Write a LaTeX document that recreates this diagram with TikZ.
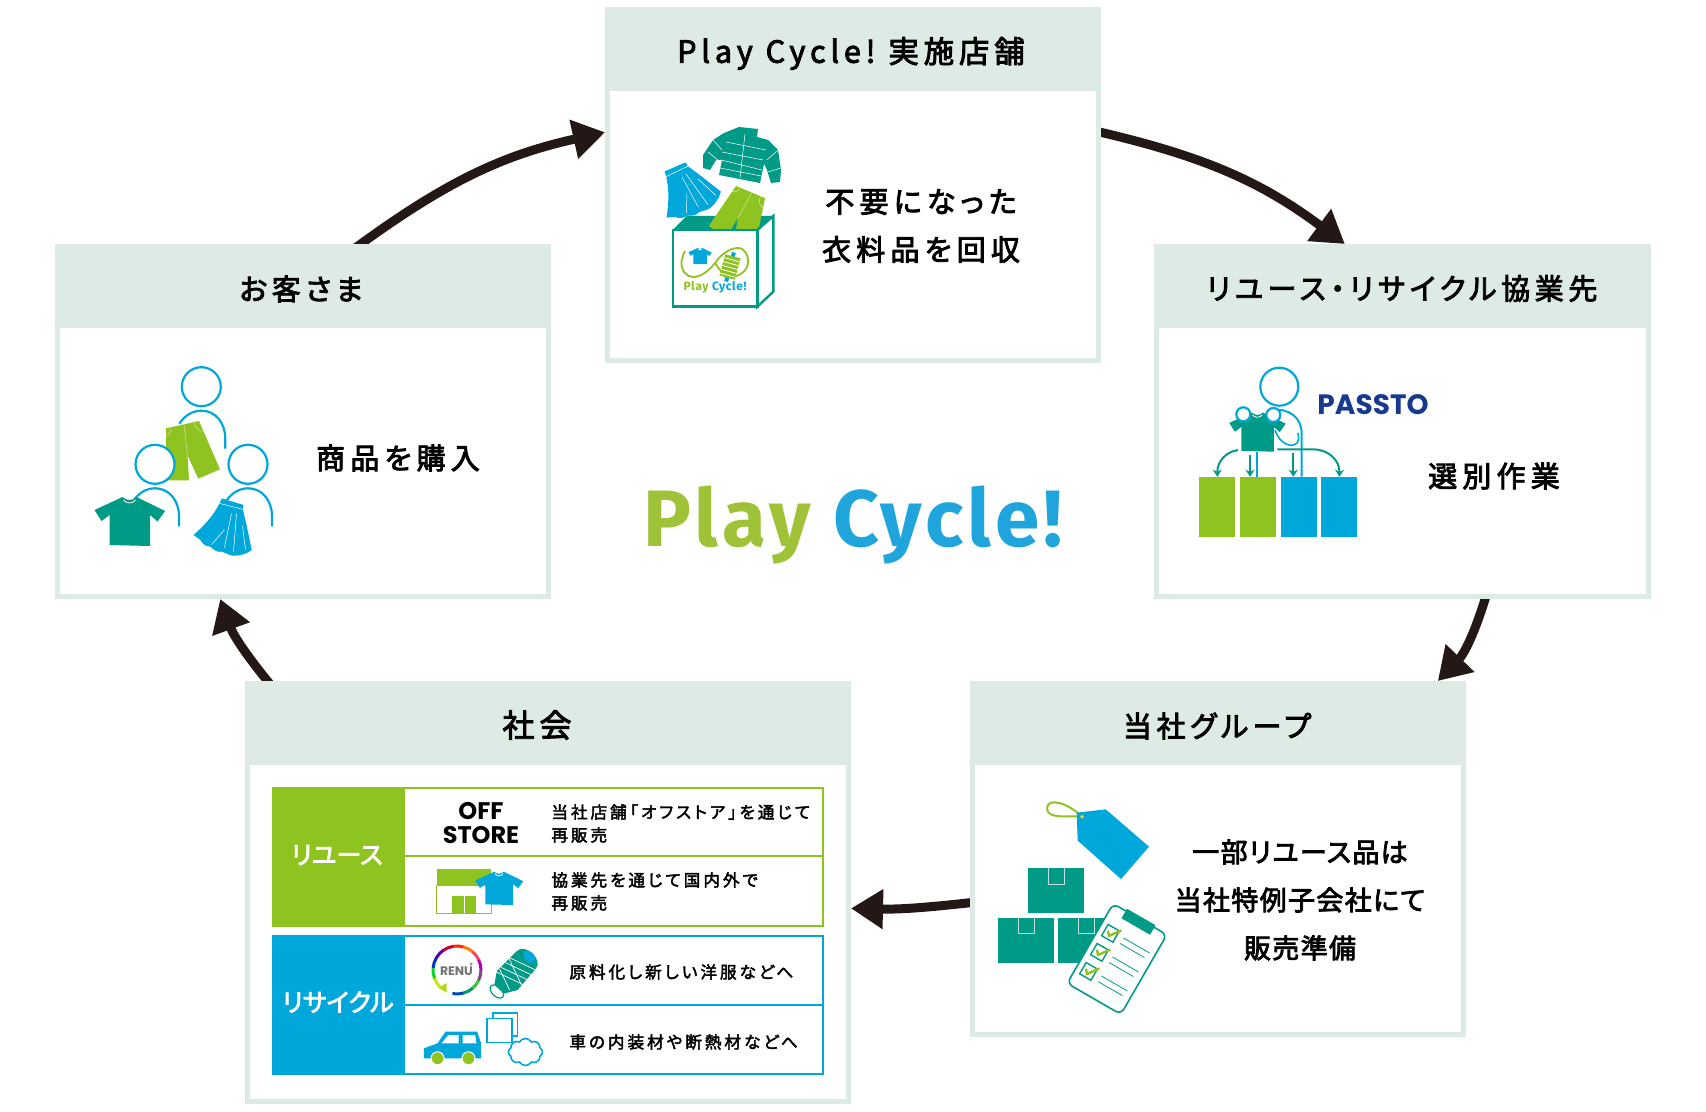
\documentclass[tikz,border=0pt]{standalone}
\usepackage{fontspec}
\usetikzlibrary{arrows.meta, positioning, shapes.symbols}
\newfontfamily\jpwide[RawFeature={+palt},FakeBold=3,LetterSpace=16]{Noto Sans CJK JP}
\newfontfamily\jpbody[RawFeature={+palt},FakeBold=3,LetterSpace=18]{Noto Sans CJK JP}
\newfontfamily\jptight[RawFeature={+palt},FakeBold=3,LetterSpace=5]{Noto Sans CJK JP}
\newfontfamily\jprow[RawFeature={+palt},FakeBold=2.5,LetterSpace=18]{Noto Sans CJK JP}
\newfontfamily\jplabel[RawFeature={+palt},FakeBold=3]{Noto Sans CJK JP}
\newfontfamily\titlefont[LetterSpace=5.3]{Fira Sans}
\newfontfamily\brandfont{Poppins}
\definecolor{headc}{HTML}{DEEBE4}
\definecolor{leafc}{HTML}{8FC31F}
\definecolor{skyc}{HTML}{00A7DB}
\definecolor{tealc}{HTML}{009B86}
\definecolor{navyc}{HTML}{173A8F}
\definecolor{inkc}{HTML}{231815}
\definecolor{tapec}{HTML}{BFE3DA}
\pgfdeclarelayer{behind}
\pgfsetlayers{behind,main}

\begin{document}
\begin{tikzpicture}[x=0.5pt, y=-0.5pt]
	\tikzset{
		stage/.style={draw=headc, fill=white, line width=2.5pt, inner sep=0pt},
		headbar/.style={fill=headc},
		headtext/.style={font=\jpwide\fontsize{14.5}{18}\selectfont, text=black, inner sep=0pt},
		bodytext/.style={font=\jpbody\fontsize{14.5}{24}\selectfont, text=black, align=center, inner sep=0pt},
		grouptext/.style={font=\jptight\fontsize{13.5}{24}\selectfont, text=black, align=center, inner sep=0pt},
		rowtext/.style={font=\jprow\fontsize{8.3}{11.5}\selectfont, text=black, align=left, inner sep=0pt, anchor=west},
		tagtext/.style={font=\jplabel\fontsize{12.6}{14}\selectfont, text=white, inner sep=0pt},
		flow/.style={-{Triangle[length=16pt, width=19pt]}, draw=inkc, line width=4.5pt, shorten <=-8pt},
		sortflow/.style={-{Stealth[length=3.5pt, width=4.5pt]}, draw=tealc, line width=1pt},
		bin/.style={minimum width=18pt, minimum height=30.3pt, inner sep=0pt, outer sep=0pt},
		person/.pic={
			\draw[skyc, line width=1.1pt, fill=white] (0,0) circle (19.5);
			\draw[skyc, line width=1.1pt] (-22,37) .. controls (-16,28) and (-8,24) .. (0,24) .. controls (14,24) and (24,36) .. (24,52) -- (24,62);
		},
		tee/.pic={
			\fill[pic actions] (-7,0) -- (-35,13) -- (-28,24) -- (-20,18) -- (-20,48) -- (20.6,49) -- (20.6,18) -- (28,24.5) -- (35.6,14) -- (7,0) .. controls (3,4) and (-3,4) .. cycle;
			\draw[white, line width=0.4pt] (-6,3) .. controls (-3,7) and (3,7) .. (6,3);
		},
		skirt/.pic={
			\fill[skyc] (-10.7,-3.3) -- (11,3.3) -- (10.3,7.7) .. controls (14,22) and (17,38) .. (19.3,48.3) .. controls (14,52) and (9,54) .. (1,54) .. controls (-3,54) and (-7,51) .. (-10.7,50) .. controls (-15,51) and (-19,48) .. (-22,45) .. controls (-27,45) and (-30,42) .. (-32.3,38) -- (-39,33.3) .. controls (-27,23) and (-18,12) .. (-13,1.7) -- cycle;
			\draw[white, line width=0.25pt] (-13,1.7) -- (10.5,7.7) (-1,12) -- (-8,46) (4,12) -- (1,50) (10,24) -- (13,48) (-8,28) -- (-21,43);
		},
		shorts/.pic={
			\fill[leafc] (0,0) -- (33,-7.3) -- (54,41) -- (32.3,50.3) -- (21.5,27) -- (23,52) -- (0.7,52) -- cycle;
			\draw[white!60!leafc, line width=0.25pt] (18,-4) -- (21.5,27) (5,0) .. controls (5,5) and (2,7) .. (0,7) (28,-6) .. controls (29,0) and (33,3) .. (38,3);
		},
		parcel/.pic={
			\fill[tealc] (0,0) rectangle (56.3,45);
			\draw[tapec, line width=0.5pt] (20.5,0) -- (20.5,15.7) -- (36.2,15.7) -- (36.2,0);
		},
	}

	\useasboundingbox (0,0) rectangle (1706,1112);

	\foreach \name/\cx/\cy/\bw/\bh in {store/853/185/491/351, customer/303/421.5/491/350, partner/1402.5/421.5/492/350, group/1218/859/491/351, society/548/892.5/601/418}
		\node[stage, minimum width=\bw*0.5pt, minimum height=\bh*0.5pt] (\name) at (\cx,\cy) {};

	\fill[headbar] (605,7) rectangle (1101,91);
	\fill[headbar] (55,244) rectangle (551,328);
	\fill[headbar] (1154,244) rectangle (1651,328);
	\fill[headbar] (970,681) rectangle (1466,765);
	\fill[headbar] (245,681) rectangle (851,765);

	\begin{pgfonlayer}{behind}
		\draw[flow] (customer.72.8) to[bend left=12] (store.168);
		\draw[flow] (store.12) to[bend left=12] (partner.108.5);
		\draw[flow] (partner.-65.6) to[bend left=14] (group.39);
		\draw[flow] (group.190.7) to[bend left=4] (society.-3.7);
		\draw[flow] (society.143) to[bend left=10] (customer.245.2);
	\end{pgfonlayer}

	\node[headtext, font=\jpwide\fontsize{15.2}{18}\selectfont] (storehead) at (851,53.5) {Play\hspace{6.5pt}Cycle!\hspace{6.5pt}実施店舗};
	\node[headtext] (customerhead) at (301,289) {お客さま};
	\node[headtext] (partnerhead) at (1402,288.5) {リユース・リサイクル協業先};
	\node[headtext] (grouphead) at (1217,726) {当社グループ};
	\node[headtext, font=\jpwide\fontsize{16}{18}\selectfont] (societyhead) at (537,725) {社会};

	\node[bodytext] (storetext) at (921,226) {不要になった\\衣料品を回収};
	\node[bodytext] (customertext) at (398,458) {商品を購入};
	\node[bodytext] (partnertext) at (1494,476) {選別作業};
	\node[grouptext] (grouptext) at (1300,900) {一部リユース品は\\当社特例子会社にて\\販売準備};

	\node[font=\titlefont\bfseries\fontsize{40}{48}\selectfont, inner sep=0pt, anchor=base west] (title) at (643,546) {\textcolor[HTML]{A0C238}{Play} \textcolor[HTML]{1FA5DC}{Cycle!}};

	% store icon
	\fill[tealc] (739,127) -- (758,129) -- (757,137) -- (768,140) -- (778,150) -- (781,170) -- (780,182) -- (771,183) -- (767,170) -- (764,164) -- (760,183) -- (719,175) -- (722,160) -- (716,160) -- (710,170) -- (703,168) -- (703,155) -- (713,140) -- (724,133) -- cycle;
	\draw[white, line width=0.25pt] (745,134) -- (740,178) (726,142) -- (766,150) (722,152) -- (763,160) (721,160) -- (762,170) (720,168) -- (761,176) (713,140) -- (722,150) (708,152) -- (718,160) (778,150) -- (767,160) (781,168) -- (768,172);
	\pic at (675,167) [rotate=40] {skirt};
	\fill[tealc] (672.7,230) -- (686.7,216) -- (773.3,216) -- (757.3,230) -- cycle;
	\pic at (736,186) [rotate=-35, scale=0.93] {shorts};
	\draw[tealc, line width=1.2pt, fill=white] (757.3,230) -- (773.3,216) -- (773.3,291.7) -- (757.3,306.7) -- cycle;
	\draw[tealc, line width=1.2pt, fill=white] (672.7,230) rectangle (757.3,306.7);
	\draw[leafc, line width=0.9pt] (715,263) .. controls (724,250) and (734,248) .. (738,248) .. controls (745,248) and (749,256) .. (748,263) .. controls (747,272) and (738,277) .. (730,277) .. controls (724,277) and (720,270) .. (715,263) .. controls (708,272) and (700,277) .. (693,277) .. controls (686,277) and (681,270) .. (681.5,262) .. controls (682,258) and (683,255) .. (685,251);
	\pic[fill=skyc] at (700,248) [scale=0.33] {tee};
	\begin{scope}[shift={(730,267)}, rotate=-15]
		\fill[skyc] (-2,-15) rectangle (2,15);
		\fill[leafc] (-8,-11) rectangle (8,11);
		\foreach \yy in {-7.5,-3.5,0.5,4.5,8.5}
			\draw[white, line width=0.4pt] (-8,\yy) -- (8,\yy);
	\end{scope}
	\node[font=\titlefont\bfseries\fontsize{6}{7}\selectfont, inner sep=0pt] (boxlogo) at (715,287) {\textcolor{leafc}{Play} \textcolor{skyc}{Cycle!}};

	% customer icon
	\pic at (201.3,386.7) {person};
	\pic at (166,428.3) {shorts};
	\pic at (155,464.3) {person};
	\pic at (248,464.3) {person};
	\pic[fill=tealc] at (129.5,497) {tee};
	\pic at (232.5,501.7) {skirt};

	% partner icon
	\node[fill=leafc, bin] (bin1) at (1217.3,507) {};
	\node[fill=leafc, bin, right=2.35pt of bin1] (bin2) {};
	\node[fill=skyc, bin, right=2.35pt of bin2] (bin3) {};
	\node[fill=skyc, bin, right=2.35pt of bin3] (bin4) {};
	\coordinate (stem1) at (1256.7,451.7);
	\coordinate (stem2) at (1301.7,434);
	\draw[skyc, line width=1pt] (stem1) -- (stem1 |- bin2.north);
	\draw[skyc, line width=1pt] (1272,410) .. controls (1290,408) and (1301.7,418) .. (stem2) -- (stem2 |- bin3.north);
	\draw[skyc, line width=0.8pt] (1275,430) .. controls (1280,445) and (1292,448) .. (1297,443) .. controls (1300,438) and (1298,436) .. (1298,433);
	\draw[skyc, line width=1.1pt, fill=white] (1279.3,386.7) circle (19);
	\pic[fill=tealc] at (1257.3,412.5) [scale=0.8] {tee};
	\draw[skyc, line width=1.1pt, fill=white] (1243.3,414.3) circle (7);
	\draw[skyc, line width=1.1pt, fill=white] (1273.3,415) circle (7);
	\coordinate (out1) at (1238,450);
	\coordinate (out2) at (1250,455);
	\coordinate (out3) at (1293.3,453);
	\coordinate (out4) at (1277.3,449.3);
	\draw[sortflow] (out1) .. controls (1225,452) and (1217.3,462) .. (bin1.north);
	\draw[sortflow] (out2) -- (out2 |- bin2.north);
	\draw[sortflow] (out3) -- (out3 |- bin3.north);
	\draw[sortflow] (out4) -- (1313,449.3) .. controls (1328,449.3) and (1339.7,460) .. (bin4.north);
	\node[font=\brandfont\bfseries\fontsize{14}{16}\selectfont, text=navyc, inner sep=0pt] (passto) at (1373,404.5) {PASSTO};

	% group icon
	\draw[leafc, line width=1pt] (1082,816.7) .. controls (1068,803) and (1048,797) .. (1047,808) .. controls (1047,820) and (1068,815) .. (1082,816.7);
	\fill[skyc] (1076.7,812.7) -- (1105.7,809.3) -- (1149,846.7) -- (1121,879) -- (1077.7,840.7) -- cycle;
	\draw[leafc, line width=0.5pt, fill=white] (1082,816.7) circle (1.8);
	\pic at (1028,868.3) {parcel};
	\pic at (998,917.7) {parcel};
	\pic at (1058.3,917.7) {parcel};
	\begin{scope}[shift={(1117,959)}, rotate=-30]
		\draw[tealc, line width=0.8pt, fill=white, rounded corners=3pt] (-31,-46) rectangle (31,46);
		\fill[tealc] (-16.5,-48.5) rectangle (16.5,-37.5);
		\foreach \yy in {-19,3,25}{
			\draw[tealc, line width=0.7pt, fill=white] (-25,\yy-6.5) rectangle (-12,\yy+6.5);
			\draw[leafc, line width=1.2pt] (-22,\yy-1) -- (-18.5,\yy+3) -- (-10.5,\yy-8);
			\draw[tealc, line width=0.4pt] (-5,\yy-2.5) -- (25,\yy-2.5) (-5,\yy+4) -- (23,\yy+4);
		}
	\end{scope}

	% society panels
	\fill[leafc] (271.6,787) rectangle (404,927);
	\draw[leafc, line width=1.1pt] (404,788) rectangle (823,926) (404,856) -- (823,856);
	\fill[skyc] (271.6,935) rectangle (404,1075);
	\draw[skyc, line width=1.1pt] (404,936) rectangle (823,1074) (404,1005) -- (823,1005);
	\node[tagtext] (reusetag) at (337,855) {リユース};
	\node[tagtext] (recycletag) at (338,1002) {リサイクル};
	\node[font=\brandfont\bfseries\fontsize{12}{12.3}\selectfont, align=center, inner sep=0pt, text=black!90!inkc] (offstore) at (481,823) {OFF\\[-0.5pt]STORE};
	\node[rowtext] (row1) at (551,823.5) {当社店舗「オフストア」を通じて\\再販売};
	\node[rowtext] (row2) at (551,891.5) {協業先を通じて国内外で\\再販売};
	\node[rowtext] (row3) at (569,972) {原料化し新しい洋服などへ};
	\node[rowtext] (row4) at (569,1042) {車の内装材や断熱材などへ};

	% shop
	\fill[leafc] (436.8,869.3) rectangle (491,885);
	\draw[leafc, line width=0.5pt, fill=white] (436.8,885) rectangle (491,913.3);
	\fill[leafc] (451.5,896) rectangle (476.4,913.3);
	\draw[white, line width=0.4pt] (464,896) -- (464,913.3);
	\pic[fill=skyc] at (499,871.7) [scale=0.68] {tee};

	% renu ring
	\foreach \a/\col in {135/yellow!80!green, 160/green!70!teal, 185/blue!60!teal, 210/violet!70!blue, 235/red!60!violet, 260/red!70!orange, 285/orange, 310/magenta!50!orange, 335/violet!60!magenta, 0/gray!60!violet, 25/green!50!gray, 50/teal!80!green, 75/teal!60!blue}
		\draw[\col, line width=1.5pt] ([shift={(\a:24)}]457,970) arc[start angle=\a, delta angle=26, radius=24];
	\fill[yellow!70!green] (438.5,988) -- (446.5,983) -- (446.5,992.5) -- cycle;
	\node[font=\brandfont\bfseries\fontsize{6.2}{7}\selectfont, text=black!55, inner sep=0pt] (renu) at (456.5,971) {RENU};
	\draw[black!55, line width=0.3pt] (471,964) circle (1.3);

	% spool
	\begin{scope}[shift={(516,971)}, rotate=-43, scale=1.08]
		\draw[tealc, line width=0.6pt, fill=white] (0,26) ellipse (7.5 and 4.5);
		\fill[tealc] (-12,-14) .. controls (-12,-25) and (12,-25) .. (12,-14) -- (13,12) -- (6,23) -- (-6,23) -- (-13,12) -- cycle;
		\foreach \yy in {-9,-3,3,9}
			\draw[white, line width=0.35pt] (-12.5,\yy+4) -- (12.5,\yy-4);
		\draw[white, line width=0.35pt] (-12.5,-4) -- (12.5,6) (-12.5,9) -- (8,17);
		\fill[skyc] (0,-18) ellipse (6.5 and 4.5);
	\end{scope}

	% car
	\fill[skyc] (423.8,1048.3) -- (437.6,1043.3) -- (445.5,1031.7) -- (477.2,1031.7) -- (481.1,1043.3) -- (481.1,1058.3) -- (423.8,1058.3) -- cycle;
	\fill[white] (441.6,1043.3) -- (448.3,1035) -- (458.6,1035) -- (458.6,1043.3) -- cycle;
	\fill[white] (462.5,1035) -- (475.2,1035) -- (476.4,1043.3) -- (462.5,1043.3) -- cycle;
	\draw[white, line width=0.5pt, fill=leafc] (437.6,1058.3) circle (6.5);
	\draw[white, line width=0.5pt, fill=leafc] (468.5,1058.3) circle (6.5);
	\draw[skyc, line width=0.8pt, fill=white] (493,1012.7) rectangle (517.5,1036);
	\draw[skyc, line width=0.8pt, fill=white] (487,1018.3) rectangle (512,1042.3);
	\node[cloud, cloud puffs=8, cloud puff arc=120, aspect=1.2, draw=skyc, fill=white, line width=0.8pt, minimum width=17pt, minimum height=13.5pt, inner sep=0pt] (wool) at (525.4,1052) {};
\end{tikzpicture}
\end{document}
